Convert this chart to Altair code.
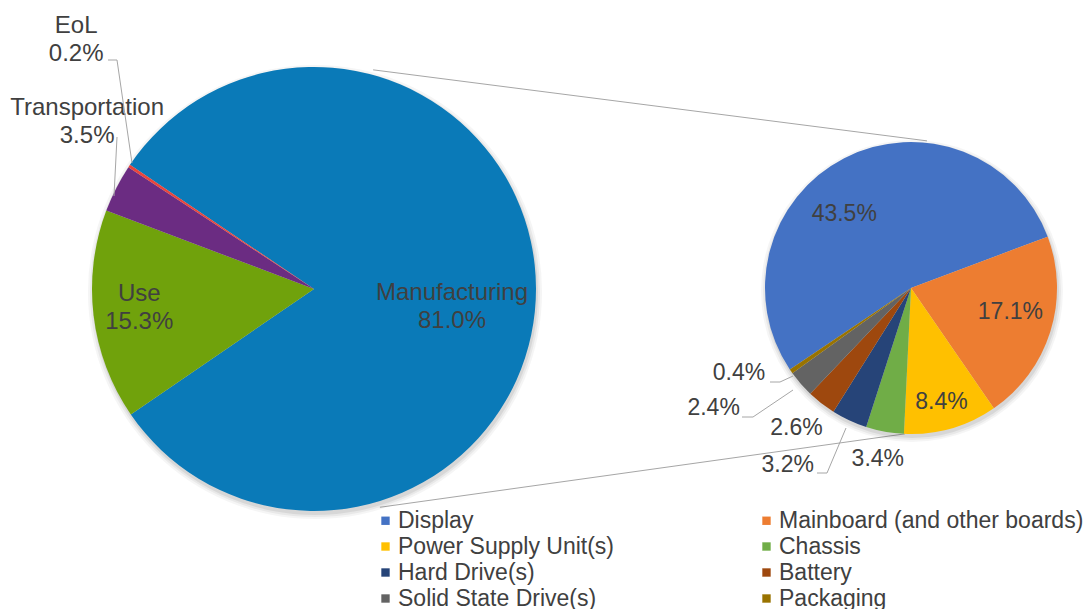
import math
import altair as alt
import pandas as pd

# ---------------- data ----------------
stages = ["Manufacturing", "Use", "Transportation", "EoL"]
stage_share = [81.0, 15.3, 3.5, 0.2]

components = [
    "Display",
    "Mainboard (and other boards)",
    "Power Supply Unit(s)",
    "Chassis",
    "Hard Drive(s)",
    "Battery",
    "Solid State Drive(s)",
    "Packaging",
]
component_share = [43.5, 17.1, 8.4, 3.4, 3.2, 2.6, 2.4, 0.4]

# ---------------- styles ----------------
stage_colors = ["#0A7AB8", "#70A20C", "#6B2C82", "#E8453C"]
component_colors = ["#4472C4", "#ED7D31", "#FFC000", "#70AD47",
                    "#264478", "#9E480E", "#636363", "#997300"]
FONT = "Liberation Sans"
TXT = "#404040"
LINE = "#A6A6A6"
FS_LEFT = 24
FS_RIGHT = 23
FS_LEG = 23

W, H = 1075, 601
OX, OY = 8, 8  # page margin

# pie geometry (page coordinates -> chart coordinates)
L_CX, L_CY, L_R = 314 - OX, 289 - OY, 222
R_CX, R_CY, R_R = 911 - OX, 288 - OY, 146
L_START = math.radians(-56.0)
R_START = math.radians(-123.9)

# label nudges: name -> (radius, dx, dy)
left_label_pos = {
    "Manufacturing": (138, 0, 4),
    "Use": (176, 0, -16),
    "Transportation": (240, -13, -72),
    "EoL": (240, -38, -130),
}
right_label_pos = {
    "Display": (100, -21, 15),
    "Mainboard (and other boards)": (100, 4, -6),
    "Power Supply Unit(s)": (115, -1, 3),
    "Chassis": (174, -2, 0),
    "Hard Drive(s)": (190, -43, 5),
    "Battery": (180, -4, -2),
    "Solid State Drive(s)": (190, -54, -5),
    "Packaging": (190, -16, -23),
}

left_df = pd.DataFrame({
    "name": stages,
    "share": stage_share,
    "idx": list(range(len(stages))),
    "label": [f"{n}\n{v:.1f}%" for n, v in zip(stages, stage_share)],
})
right_df = pd.DataFrame({
    "name": components,
    "share": component_share,
    "idx": list(range(len(components))),
    "label": [f"{v:.1f}%" for v in component_share],
})

one = pd.DataFrame({"k": [0]})


def shadow(cx, cy, r):
    out = []
    for extra, op in [(5, 0.04), (3, 0.05), (1, 0.07)]:
        out.append(
            alt.Chart(one).mark_arc(
                theta=0, theta2=2 * math.pi, radius=r + extra,
                color="#000000", opacity=op,
            ).encode(x=alt.value(cx + 1), y=alt.value(cy + 3))
        )
    return out


def pie(df, cx, cy, r, start, names, colors, legend, label_pos, fs):
    total = float(df["share"].sum())
    tscale = alt.Scale(domain=[0, total], range=[start, start + 2 * math.pi])
    base = alt.Chart(df).transform_window(
        cum="sum(share)", sort=[alt.SortField("idx")], frame=[None, 0]
    ).transform_calculate(mid="datum.cum - datum.share / 2")
    arcs = base.mark_arc(radius=r).encode(
        theta=alt.Theta("share:Q", stack=True, scale=tscale),
        order=alt.Order("idx:Q"),
        color=alt.Color("name:N", scale=alt.Scale(domain=names, range=colors),
                        sort=names, legend=legend),
        x=alt.value(cx),
        y=alt.value(cy),
    )
    layers = [arcs]
    for n in names:
        rad, dx, dy = label_pos[n]
        layers.append(
            base.transform_filter(alt.datum.name == n).mark_text(
                radius=rad, dx=dx, dy=dy, font=FONT, fontSize=fs, color=TXT,
                lineBreak="\n", lineHeight=28, align="center", baseline="middle",
            ).encode(
                theta=alt.Theta("mid:Q", scale=tscale, stack=False),
                text="label:N",
                x=alt.value(cx),
                y=alt.value(cy),
            )
        )
    return layers


def seg(x1, y1, x2, y2):
    return alt.Chart(one).mark_rule(color=LINE, strokeWidth=1).encode(
        x=alt.value(x1 - OX), y=alt.value(y1 - OY),
        x2=alt.value(x2 - OX), y2=alt.value(y2 - OY),
    )


def on_circle(cx, cy, r, deg):
    a = math.radians(deg)
    return cx + OX + r * math.cos(a), cy + OY + r * math.sin(a)


# connector lines between the two pies
lt = on_circle(L_CX, L_CY, L_R + 5, -74.9)
rt = on_circle(R_CX, R_CY, R_R + 2, -83.8)
lb = on_circle(L_CX, L_CY, L_R + 6, 73.2)
rb = on_circle(R_CX, R_CY, R_R, 92.4)
connectors = [seg(*lt, *rt), seg(*lb, *rb)]

# leader lines (page coordinates)
leaders = [
    (108, 60, 117, 60), (117, 60, 132, 163),
    (117, 137, 114, 196),
    (770, 382, 780, 382), (780, 382, 793, 376),
    (742, 417, 753, 417), (753, 417, 793, 390),
    (817, 473, 827, 473), (827, 473, 846, 428),
]
leader_layers = [seg(*s) for s in leaders]

legend = alt.Legend(
    title=None, orient="none", legendX=366, legendY=501, columns=2,
    direction="horizontal",
    symbolType="square", symbolSize=70, symbolStrokeWidth=0,
    labelFont=FONT, labelFontSize=FS_LEG, labelColor=TXT, labelLimit=500,
    columnPadding=140, rowPadding=2, labelOffset=1, padding=0,
)

layers = (
    connectors
    + shadow(L_CX, L_CY, L_R)
    + shadow(R_CX, R_CY, R_R)
    + pie(left_df, L_CX, L_CY, L_R, L_START, stages, stage_colors, None,
          left_label_pos, FS_LEFT)
    + pie(right_df, R_CX, R_CY, R_R, R_START, components, component_colors,
          legend, right_label_pos, FS_RIGHT)
    + leader_layers
)

chart = alt.layer(*layers).resolve_scale(
    theta="independent", color="independent"
).properties(
    width=W, height=H, padding=0,
    autosize=alt.AutoSizeParams(type="none"),
    background="white",
).configure_view(stroke="transparent")

chart.save("out.html", embed_options={"renderer": "svg", "actions": False})
